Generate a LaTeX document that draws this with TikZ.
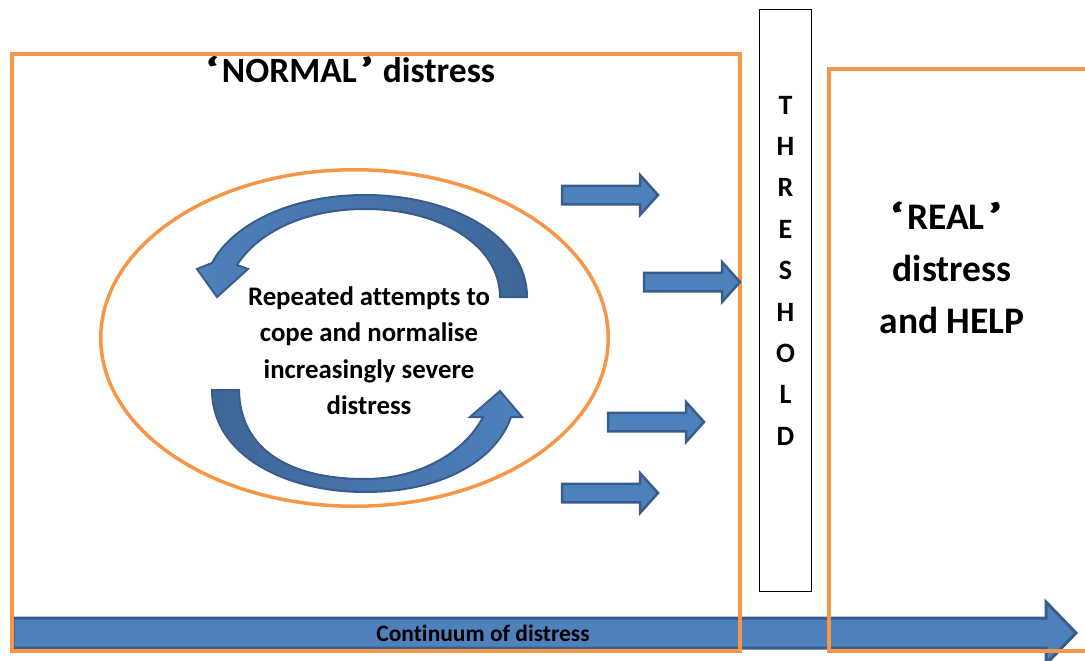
\documentclass[tikz,border=0pt]{standalone}
\usepackage{fontspec}
\usepackage{graphicx}
\setmainfont{Carlito}[Ligatures=NoCommon]
\usetikzlibrary{shapes.arrows}
\definecolor{org}{HTML}{F79646}
\definecolor{blu}{HTML}{4F81BD}
\definecolor{bld}{HTML}{385D8A}
\definecolor{blm}{HTML}{3E6699}
\newcommand{\wideq}[1]{\scalebox{1.8}[1]{#1}}
\begin{document}
\begin{tikzpicture}[x=1pt,y=-1pt,
  obox/.style={draw=org, line width=3.5pt},
  barrow/.style={single arrow, draw=bld, fill=blu, line width=2.5pt, inner xsep=0pt,
    inner ysep=8pt, outer sep=0pt, minimum height=96pt, single arrow head extend=10.5pt,
    single arrow tip angle=96, anchor=tail},
  bigarrow/.style={single arrow, draw=bld, fill=blu, line width=3pt, inner xsep=0pt,
    inner ysep=13.5pt, outer sep=0pt, minimum height=1063pt, single arrow head extend=16pt,
    single arrow tip angle=92, anchor=tail},
  curvearrow/.style={draw=bld, line width=2pt, line join=miter},
  titletext/.style={font=\bfseries\fontsize{35.5}{40}\selectfont, anchor=base},
  bodytext/.style={font=\bfseries\fontsize{26.8}{32}\selectfont, anchor=base},
  realtext/.style={font=\bfseries\fontsize{37.5}{44}\selectfont, anchor=base},
  threstext/.style={font=\bfseries\fontsize{28}{32}\selectfont, anchor=base},
  conttext/.style={font=\bfseries\fontsize{23.5}{28}\selectfont, anchor=base},
]
\useasboundingbox (0,0) rectangle (1085,661);
\clip (0,0) rectangle (1085,661);

% continuum arrow
\node[bigarrow] (cont) at (13,633) {};
\node[conttext] (conttxt) at (483,641) {Continuum of distress};

% boxes
\draw[obox] (12,54) rectangle (740,651);
\draw[obox] (829,69) rectangle (1100,651);
\node[draw=black, line width=0.8pt, minimum width=52pt, minimum height=582pt, inner sep=0pt, outer sep=0pt] (thres) at (785,300) {};

% ellipse
\draw[obox] (354.5,338) ellipse [x radius=253.75, y radius=168.25];

% curved arrows
\path[curvearrow, left color=blu, right color=blm]
  (527,297) .. controls (527,235) and (450,195) .. (365,195)
  .. controls (290,195) and (232,225) .. (212,263) -- (197,269) -- (217,297) -- (248,269) -- (237,265)
  .. controls (258,232) and (305,209) .. (365,209)
  .. controls (440,209) and (500,245) .. (500,297) -- cycle;
\path[curvearrow, left color=blm, right color=blu]
  (212,390) .. controls (212,455) and (285,492) .. (365,492)
  .. controls (440,492) and (495,462) .. (511,417) -- (522,417) -- (500,391) -- (470,417) -- (483,417)
  .. controls (465,452) and (420,479) .. (365,479)
  .. controls (290,479) and (240,450) .. (239,390) -- cycle;

% small block arrows
\node[barrow] (a1) at (562,195) {};
\node[barrow] (a2) at (644,282) {};
\node[barrow] (a3) at (608,422) {};
\node[barrow] (a4) at (562,493) {};

% texts
\node[titletext] (title) at (349.5,83) {\wideq{‘}\kern1.5pt NORMAL\kern1.5pt\wideq{’} distress};
\node[bodytext] (b1) at (369,305) {Repeated attempts to};
\node[bodytext] (b2) at (369,341.5) {cope and normalise};
\node[bodytext] (b3) at (369,378) {increasingly severe};
\node[bodytext] (b4) at (369,414.5) {distress};
\node[realtext] (r1) at (946,229) {\wideq{‘}\kern1.5pt REAL\kern1.5pt\wideq{’}};
\node[realtext] (r2) at (952,281) {distress};
\node[realtext] (r3) at (952,333) {and HELP};
\foreach \l [count=\i from 0] in {T,H,R,E,S,H,O,L,D}
  \node[threstext] (t\i) at (785.5,114+41.4*\i) {\l};
\end{tikzpicture}
\end{document}
